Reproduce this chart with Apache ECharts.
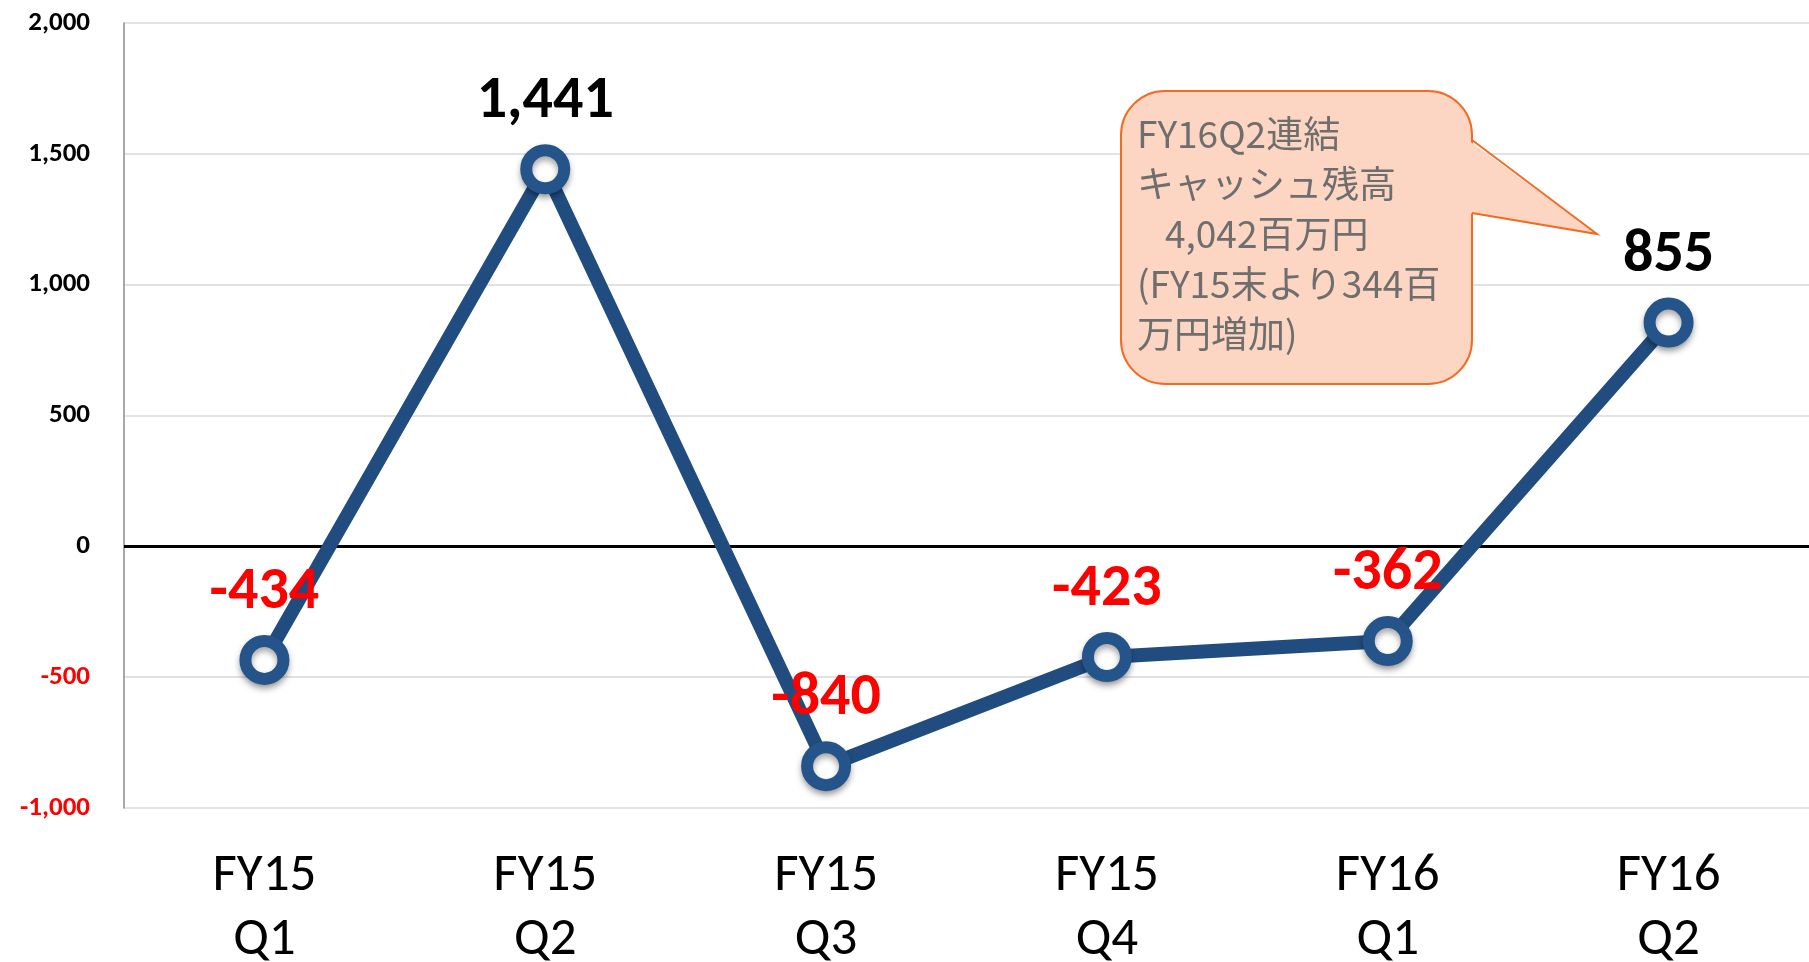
<!DOCTYPE html>
<html>
<head>
<meta charset="utf-8">
<script src="https://cdn.jsdelivr.net/npm/echarts@6/dist/echarts.min.js"></script>
<style>
  html, body { margin: 0; padding: 0; background: #fff; }
  #main { width: 1809px; height: 962px; }
</style>
</head>
<body>
<div id="main"></div>
<script>
// 四半期ごとのキャッシュフロー（百万円）
const categories = ['FY15\nQ1', 'FY15\nQ2', 'FY15\nQ3', 'FY15\nQ4', 'FY16\nQ1', 'FY16\nQ2'];
const cashFlow = [-434, 1441, -840, -423, -362, 855];
const yMin = -1000;
const yMax = 2000;
const yStep = 500;
// 吹き出しの文言
const calloutLines = ['FY16Q2連結', 'キャッシュ残高', '4,042百万円', '(FY15末より344百', '万円増加)'];
const calloutIndent = [0, 0, 28, 0, 0];

const chart = echarts.init(document.getElementById('main'));

const fmt = v => Number(v).toLocaleString('en-US');

// 吹き出し（角丸の箱＋三角のしっぽ）
const boxX = 1121, boxY = 91, boxW = 351, boxH = 293;
const callout = [
  {
    type: 'rect',
    shape: { x: boxX, y: boxY, width: boxW, height: boxH, r: 44 },
    style: { fill: '#FCD6C2', stroke: '#F26B21', lineWidth: 2 },
    z: 10
  },
  {
    type: 'polygon',
    shape: { points: [[boxX + boxW - 4, 140], [1597, 234], [boxX + boxW - 4, 213]] },
    style: { fill: '#FCD6C2' },
    z: 11
  },
  {
    type: 'polyline',
    shape: { points: [[boxX + boxW, 140], [1597, 234], [boxX + boxW, 213]] },
    style: { stroke: '#F26B21', lineWidth: 2, fill: null },
    z: 12
  }
];
calloutLines.forEach((t, i) => {
  callout.push({
    type: 'text',
    x: 1137 + calloutIndent[i],
    y: 134 + i * 50,
    style: {
      text: t,
      fill: '#6E6E6E',
      font: '37px "Noto Sans CJK JP", sans-serif',
      verticalAlign: 'middle',
      align: 'left'
    },
    z: 13
  });
});

const option = {
  animation: false,
  backgroundColor: '#ffffff',
  grid: { left: 124, right: 0, top: 23, bottom: 154, outerBoundsMode: 'none', containLabel: false },
  xAxis: {
    type: 'category',
    data: categories,
    boundaryGap: true,
    axisLine: { show: false },
    axisTick: { show: false },
    axisLabel: {
      margin: 37,
      color: '#000',
      fontSize: 53,
      lineHeight: 64,
      fontFamily: 'Carlito, "Liberation Sans Narrow", "Liberation Sans", sans-serif'
    }
  },
  yAxis: {
    type: 'value',
    min: yMin,
    max: yMax,
    interval: yStep,
    axisLine: { show: true, lineStyle: { color: '#8c8c8c', width: 1.5 } },
    axisTick: { show: false },
    splitLine: { lineStyle: { color: '#d9d9d9', width: 1.5 } },
    axisLabel: {
      margin: 34,
      formatter: v => v < 0 ? '{neg|' + fmt(v) + '}' : '{pos|' + fmt(v) + '}',
      rich: {
        pos: { color: '#000', fontSize: 27, fontWeight: 'bold', fontFamily: 'Carlito, "Liberation Sans", sans-serif' },
        neg: { color: '#ff0000', fontSize: 27, fontWeight: 'bold', fontFamily: 'Carlito, "Liberation Sans", sans-serif' }
      }
    }
  },
  series: [{
    type: 'line',
    data: cashFlow,
    symbol: 'circle',
    symbolSize: 38,
    lineStyle: { color: '#214C7F', width: 14 },
    itemStyle: {
      color: '#ffffff',
      borderColor: '#25548A',
      borderWidth: 12,
      shadowBlur: 6,
      shadowOffsetY: 4,
      shadowColor: 'rgba(0,0,0,0.35)'
    },
    label: {
      show: true,
      position: 'top',
      distance: 12,
      fontSize: 60,
      fontWeight: 'bold',
      fontFamily: 'Carlito, "Liberation Sans", sans-serif',
      formatter: p => fmt(p.value),
      color: '#000'
    },
    markLine: {
      silent: true,
      symbol: 'none',
      label: { show: false },
      lineStyle: { color: '#000', width: 3, type: 'solid' },
      data: [{ yAxis: 0 }],
      z: 1
    },
    z: 5
  }],
  graphic: callout
};

// 負の値のラベルは赤
option.series[0].data = cashFlow.map(v => ({
  value: v,
  label: { color: v < 0 ? '#ff0000' : '#000000' }
}));

chart.setOption(option);
</script>
</body>
</html>
